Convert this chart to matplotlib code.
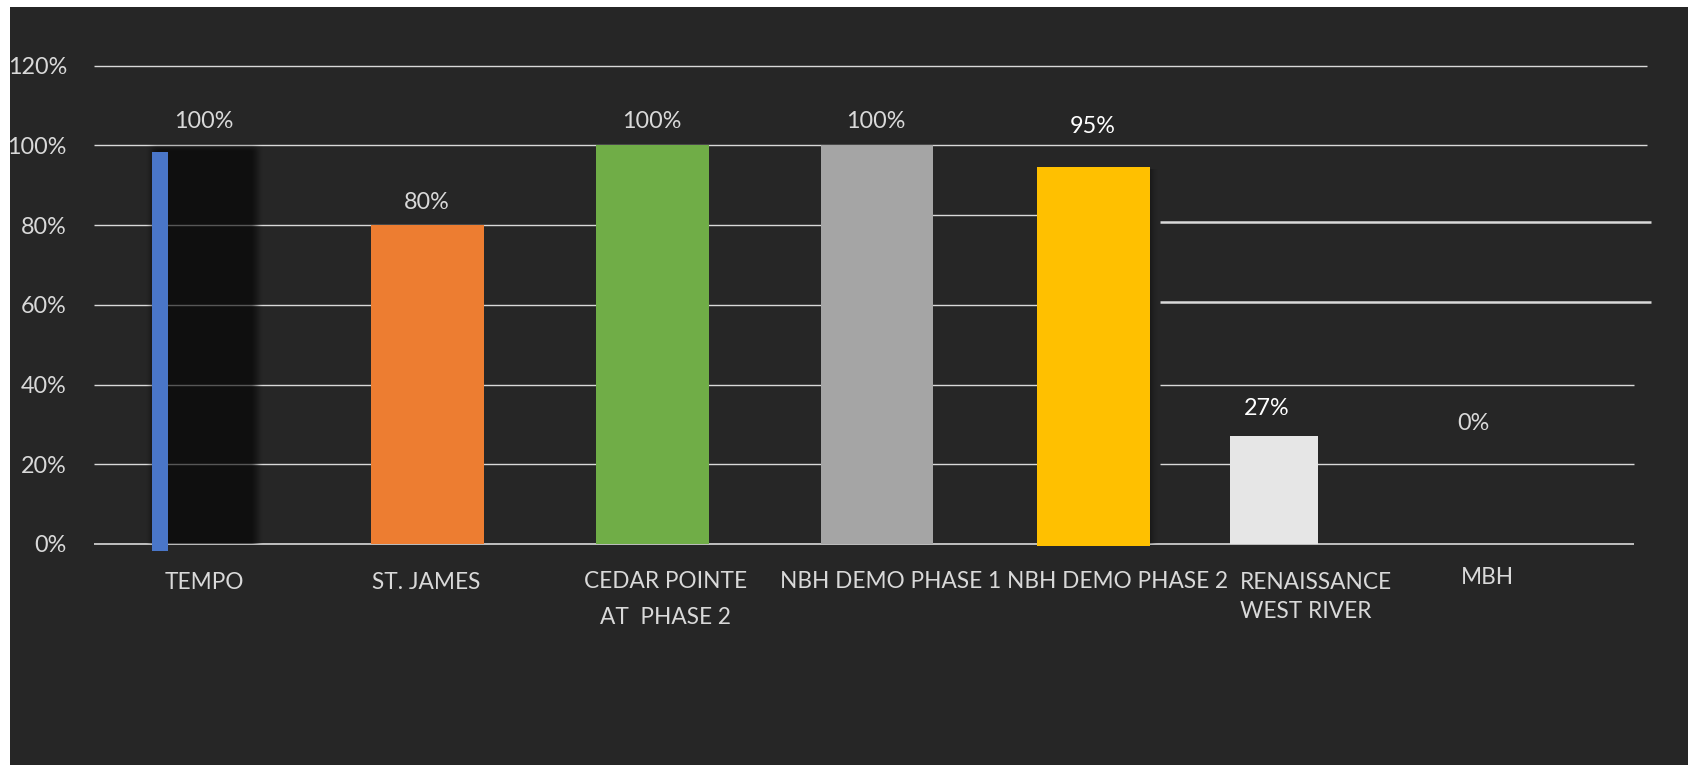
import numpy as np
import matplotlib
matplotlib.use("Agg")
import matplotlib.pyplot as plt
from matplotlib.patches import Rectangle

plt.rcParams["font.family"] = ["Lato", "DejaVu Sans"]

# ---- data ----
categories = ["TEMPO", "ST. JAMES", "CEDAR POINTE\nAT  PHASE 2", "NBH DEMO PHASE 1",
              "NBH DEMO PHASE 2", "RENAISSANCE\nWEST RIVER", "MBH"]
completion = [1.00, 0.80, 1.00, 1.00, 0.95, 0.27, 0.00]
y_ticks = [0.0, 0.2, 0.4, 0.6, 0.8, 1.0, 1.2]

# ---- layout ----
bar_x = [-0.198, 1.007, 2.02, 3.03, 4.005, 4.82, 5.78]
bar_w = [0.073, 0.509, 0.509, 0.504, 0.509, 0.40, 0.40]
bar_bottom = [-0.017, 0, 0, 0, -0.005, 0, 0]
bar_colors = ["#4a76c8", "#ed7d31", "#70ad47", "#a5a5a5", "#ffc000", "#e6e6e6", "#e6e6e6"]
label_x = [0.0, 1.006, 2.018, 3.027, 4.003, 4.789, 5.72]
label_dy = [0.059, 0.057, 0.059, 0.059, 0.098, 0.071, 0.303]
label_colors = ["#d9d9d9", "#d9d9d9", "#d9d9d9", "#d9d9d9", "#ffffff", "#ffffff", "#d9d9d9"]
cat_x = [0.0, 1.0, 2.08, 3.095, 4.115, 4.667, 5.78]
cat_y = [-0.0955, -0.0955, -0.139, -0.093, -0.093, -0.134, -0.085]
cat_ha = ["center", "center", "center", "center", "center", "left", "center"]
cat_spacing = [1.2, 1.2, 1.9, 1.2, 1.2, 1.47, 1.2]

# horizontal rules: (y, x start, x end, width)
rules = [
    (1.2, -0.495, 6.50, 1.0),
    (1.0, -0.495, 6.50, 1.0),
    (0.8, -0.495, 3.281, 1.0),
    (0.825, 3.281, 3.751, 1.0),
    (0.808, 4.307, 6.52, 1.8),
    (0.6, -0.495, 3.751, 1.0),
    (0.608, 4.307, 6.52, 1.8),
    (0.4, -0.495, 3.751, 1.0),
    (0.4, 4.307, 6.442, 1.0),
    (0.2, -0.495, 3.751, 1.0),
    (0.2, 4.307, 6.442, 1.0),
    (0.0, -0.495, 6.442, 1.2),
]

BG = "#262626"
TXT = "#d9d9d9"
FS = 16.8
FS_CAT = 16.3


def smooth(t):
    t = np.clip(t, 0, 1)
    return t * t * (3 - 2 * t)


def soft_box(ax, x0, x1, y0, y1, fl, fr, fb, ft, alpha, zorder):
    """Black rectangle with feathered edges (fade widths in data units)."""
    ex0, ex1 = x0 - fl, x1 + fr
    ey0, ey1 = y0 - fb, y1 + ft
    xs = np.linspace(ex0, ex1, 400)
    ys = np.linspace(ey0, ey1, 600)
    ax_l = smooth((xs - ex0) / (2 * fl)) if fl > 0 else np.ones_like(xs)
    ax_r = smooth((ex1 - xs) / (2 * fr)) if fr > 0 else np.ones_like(xs)
    ay_b = smooth((ys - ey0) / (2 * fb)) if fb > 0 else np.ones_like(ys)
    ay_t = smooth((ey1 - ys) / (2 * ft)) if ft > 0 else np.ones_like(ys)
    a = np.outer(ay_b * ay_t, ax_l * ax_r) * alpha
    img = np.zeros((len(ys), len(xs), 4))
    img[..., 3] = a
    ax.imshow(img, extent=(ex0, ex1, ey0, ey1), origin="lower", aspect="auto",
              interpolation="bilinear", zorder=zorder)


fig = plt.figure(figsize=(16.88, 7.65), dpi=100, facecolor=BG)
ax = fig.add_axes([94 / 1688, 221 / 765, 1553 / 1688, 478.5 / 765])
ax.set_facecolor("none")

for y, x0, x1, lw in rules:
    ax.plot([x0, x1], [y, y], color=TXT, lw=lw, solid_capstyle="butt",
            zorder=1, clip_on=False)

# dark panel behind the first column
soft_box(ax, -0.235, 0.24, 0.0, 0.995, 0.03, 0.03, 0.0, 0.012, 0.6, 2)
# drop shadow on the right of the NBH DEMO PHASE 2 column
soft_box(ax, 3.76, 4.262, 0.0, 0.94, 0.0, 0.035, 0.0, 0.0, 0.55, 2)

bars = ax.bar(bar_x, completion, width=bar_w, bottom=bar_bottom, color=bar_colors,
              linewidth=0, zorder=3)
for b in bars:
    b.set_clip_on(False)

for i, v in enumerate(completion):
    ax.text(label_x[i], v + label_dy[i], f"{round(v * 100):d}%", ha="center",
            va="center", fontsize=FS, color=label_colors[i], zorder=5)

for i, name in enumerate(categories):
    ax.text(cat_x[i], cat_y[i], name, ha=cat_ha[i], va="center",
            multialignment=cat_ha[i], fontsize=FS_CAT, color=TXT,
            linespacing=cat_spacing[i], zorder=5, clip_on=False)

ax.set_xlim(-0.495, 6.5)
ax.set_ylim(0, 1.2)
ax.set_yticks(y_ticks)
ax.set_yticklabels([f"{round(t * 100):d}%" for t in y_ticks])
ax.set_xticks([])
ax.tick_params(axis="y", length=0, pad=19.5, labelsize=FS, labelcolor=TXT)
for s in ax.spines.values():
    s.set_visible(False)

# white margin strips along the top and left edges
fig.add_artist(Rectangle((0, 758 / 765), 1, 7 / 765, transform=fig.transFigure,
                         facecolor="white", edgecolor="none", zorder=10))
fig.add_artist(Rectangle((0, 0), 10 / 1688, 1, transform=fig.transFigure,
                         facecolor="white", edgecolor="none", zorder=10))

fig.savefig("out.png", dpi=100, facecolor=BG)
